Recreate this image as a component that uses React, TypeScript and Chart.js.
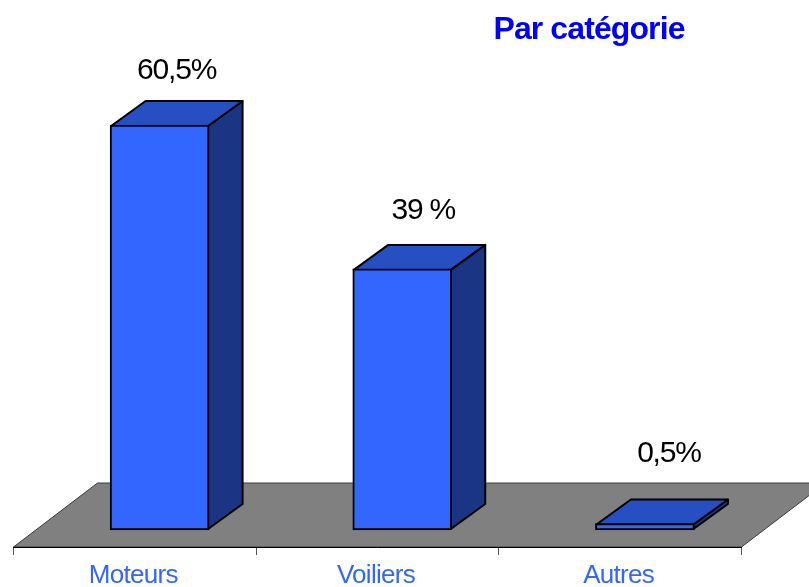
import React, { useEffect, useRef } from "react";
import { Chart, registerables } from "chart.js";

Chart.register(...registerables);

const categories = ["Moteurs", "Voiliers", "Autres"];
const shares = [60.5, 39, 0.5];
const shareLabels = ["60,5%", "39 %", "0,5%"];
const chartTitle = "Par catégorie";

const FONT = '"Liberation Sans", Arial, sans-serif';
const DEPTH_X = 34.5;
const DEPTH_Y = 25;
const FLOOR_X = 84;
const FLOOR_Y = 64;
const LABEL_LIFT = [54, 58.5, 70];
const LABEL_SHIFT = [17, 21, 24];

const cube3d = {
  id: "cube3d",
  beforeDraw(chart: any) {
    const { ctx, chartArea: a } = chart;
    ctx.save();
    ctx.fillStyle = "#ffffff";
    ctx.fillRect(0, 0, chart.width, chart.height);
    ctx.beginPath();
    ctx.moveTo(a.left, a.bottom);
    ctx.lineTo(a.right, a.bottom);
    ctx.lineTo(a.right + FLOOR_X, a.bottom - FLOOR_Y);
    ctx.lineTo(a.left + FLOOR_X, a.bottom - FLOOR_Y);
    ctx.closePath();
    ctx.fillStyle = "#808080";
    ctx.fill();
    ctx.strokeStyle = "#3a3a3a";
    ctx.lineWidth = 1;
    ctx.stroke();
    ctx.restore();
    ctx.letterSpacing = "-0.7px";
  },
  beforeDatasetsDraw(chart: any) {
    const { ctx } = chart;
    const bars = chart.getDatasetMeta(0).data;
    ctx.save();
    ctx.strokeStyle = "#000000";
    ctx.lineWidth = 2;
    ctx.lineJoin = "round";
    bars.forEach((bar: any) => {
      const l = bar.x - bar.width / 2 + 1;
      const r = bar.x + bar.width / 2 - 1;
      const t = bar.y + 1;
      const b = bar.base - 1;
      ctx.beginPath();
      ctx.moveTo(r, t);
      ctx.lineTo(r + DEPTH_X, t - DEPTH_Y);
      ctx.lineTo(r + DEPTH_X, b - DEPTH_Y);
      ctx.lineTo(r, b);
      ctx.closePath();
      ctx.fillStyle = "#1a3584";
      ctx.fill();
      ctx.stroke();
      ctx.beginPath();
      ctx.moveTo(l, t);
      ctx.lineTo(l + DEPTH_X, t - DEPTH_Y);
      ctx.lineTo(r + DEPTH_X, t - DEPTH_Y);
      ctx.lineTo(r, t);
      ctx.closePath();
      ctx.fillStyle = "#264fc2";
      ctx.fill();
      ctx.stroke();
    });
    ctx.restore();
  },
  afterDraw(chart: any) {
    const { ctx } = chart;
    const bars = chart.getDatasetMeta(0).data;
    ctx.save();
    ctx.textAlign = "center";
    ctx.textBaseline = "middle";
    ctx.fillStyle = "#000000";
    ctx.font = `30px ${FONT}`;
    ctx.letterSpacing = "-1.2px";
    bars.forEach((bar: any, i: number) => {
      ctx.fillText(shareLabels[i], bar.x + LABEL_SHIFT[i], bar.y - LABEL_LIFT[i]);
    });
    ctx.fillStyle = "#0000ff";
    ctx.font = `bold 32px ${FONT}`;
    ctx.letterSpacing = "-0.9px";
    ctx.fillText(chartTitle, 589, 30);
    ctx.restore();
    ctx.letterSpacing = "0px";
  },
};

export default function App() {
  const ref = useRef<HTMLCanvasElement>(null);
  useEffect(() => {
    const chart = new Chart(ref.current as HTMLCanvasElement, {
      type: "bar",
      data: {
        labels: categories,
        datasets: [
          {
            data: shares.map((v, i) => ({ x: i, y: v })),
            xAxisID: "xb",
            backgroundColor: "#3366ff",
            borderColor: "#000000",
            borderWidth: 2,
            borderSkipped: false,
            barThickness: 99,
            minBarLength: 6.5,
          },
        ],
      },
      plugins: [cube3d],
      options: {
        responsive: false,
        animation: false,
        layout: { padding: { left: 13.5, right: 67.5, top: 0, bottom: 0 } },
        plugins: { legend: { display: false }, tooltip: { enabled: false }, title: { display: false } },
        scales: {
          x: {
            type: "category",
            labels: categories,
            offset: true,
            border: { display: true, color: "#000000", width: 1 },
            grid: { drawOnChartArea: false, drawTicks: true, tickLength: 8, color: "#555555", offset: true },
            ticks: { color: "#3366ff", font: { family: FONT, size: 26 }, padding: 5, maxRotation: 0, labelOffset: -1.5 },
            afterFit(scale: any) {
              scale.height = 40;
            },
          },
          xb: { type: "linear", display: false, offset: false, min: -0.602, max: 2.398, position: "bottom" },
          y: { display: false, min: -2.54, max: 79.17 },
        },
      } as any,
    });
    return () => chart.destroy();
  }, []);
  return (
    <div style={{ position: "absolute", left: 0, top: 0, width: 809, height: 587 }}>
      <canvas ref={ref} width={809} height={587} style={{ display: "block" }} />
    </div>
  );
}
